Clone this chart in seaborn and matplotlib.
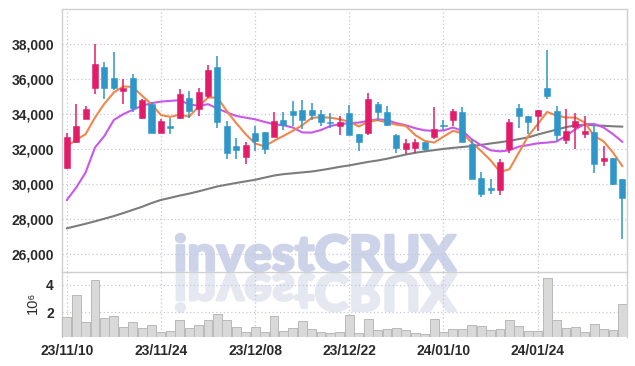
import numpy as np
import pandas as pd
import matplotlib
matplotlib.use("Agg")
import matplotlib.pyplot as plt
import seaborn as sns
from matplotlib.textpath import TextPath
from matplotlib.patches import PathPatch
from matplotlib.font_manager import FontProperties
from matplotlib.transforms import Affine2D, IdentityTransform
from matplotlib.ticker import FuncFormatter, FixedLocator

# ---------------- data ----------------
dates = ["23/11/10", "23/11/13", "23/11/14", "23/11/15", "23/11/16", "23/11/17",
         "23/11/20", "23/11/21", "23/11/22", "23/11/23", "23/11/24", "23/11/27",
         "23/11/28", "23/11/29", "23/11/30", "23/12/01", "23/12/04", "23/12/05",
         "23/12/06", "23/12/07", "23/12/08", "23/12/11", "23/12/12", "23/12/13",
         "23/12/14", "23/12/15", "23/12/18", "23/12/19", "23/12/20", "23/12/21",
         "23/12/22", "23/12/26", "23/12/27", "23/12/28", "24/01/02", "24/01/03",
         "24/01/04", "24/01/05", "24/01/08", "24/01/09", "24/01/10", "24/01/11",
         "24/01/12", "24/01/15", "24/01/16", "24/01/17", "24/01/18", "24/01/19",
         "24/01/22", "24/01/23", "24/01/24", "24/01/25", "24/01/26", "24/01/29",
         "24/01/30", "24/01/31", "24/02/01", "24/02/02", "24/02/05", "24/02/06"]

open_ = [30950, 32420, 33750, 35520, 36700, 36060, 35300, 36040, 33810, 34570,
         32950, 33330, 33810, 34900, 34320, 35010, 36700, 33300, 32190, 31580,
         32910, 32990, 32720, 33680, 34190, 34250, 34250, 34000, 33540, 33300,
         34060, 32860, 32950, 34590, 34130, 32820, 32000, 32100, 32420, 32720,
         33370, 33680, 34130, 32320, 30360, 29810, 29680, 32000, 34380, 33900,
         33900, 35470, 34190, 32530, 33250, 32860, 32990, 31350, 31490, 30290]
high = [32950, 34570, 34480, 38000, 36990, 37520, 36000, 36290, 34860, 34670,
        33710, 33810, 35430, 35330, 35470, 36820, 37330, 33620, 32670, 32420,
        33330, 32990, 34130, 34100, 34760, 34800, 34630, 34250, 34040, 33900,
        34510, 32860, 35200, 34670, 34440, 32860, 32570, 32610, 32420, 34420,
        33680, 34290, 34420, 32570, 30710, 30320, 31430, 33710, 34590, 33900,
        34250, 37670, 34480, 34290, 34060, 33900, 33400, 32190, 31490, 30290]
low = [30860, 32380, 33700, 35140, 34860, 35370, 34570, 34100, 33710, 32910,
       32910, 32860, 33710, 33810, 33870, 34950, 33240, 31430, 31430, 31140,
       31900, 31710, 32700, 33090, 33330, 33140, 33680, 33330, 33240, 32800,
       32840, 31900, 32820, 33620, 33330, 31810, 31710, 31770, 31900, 32610,
       33100, 33330, 32420, 30320, 29300, 29430, 29370, 31770, 33200, 32860,
       33050, 34860, 32480, 32290, 32000, 32670, 30670, 31050, 29940, 26860]
close = [32700, 33330, 34290, 36860, 35520, 35520, 35470, 34380, 34820, 32950,
         33620, 33220, 35140, 34190, 35280, 36530, 33560, 31810, 31960, 32250,
         32480, 32000, 33620, 33390, 33960, 33680, 33940, 33560, 33480, 33560,
         32840, 32420, 34860, 34150, 33370, 32100, 32340, 32420, 32000, 33140,
         33340, 34190, 32420, 30320, 29470, 29680, 31280, 33560, 33900, 33560,
         34250, 35050, 32820, 33050, 33620, 33050, 31140, 31500, 30040, 29240]

volume = [1.68, 3.28, 1.32, 4.36, 1.61, 1.75, 0.96, 1.32, 0.88, 1.10,
          0.59, 0.67, 1.46, 0.88, 1.10, 1.46, 1.90, 1.46, 0.93, 0.57,
          0.93, 0.57, 1.73, 0.64, 0.86, 1.37, 0.79, 0.57, 0.50, 0.57,
          1.80, 0.50, 1.51, 0.71, 0.79, 0.86, 0.71, 0.50, 0.43, 1.51,
          0.57, 0.79, 0.79, 1.08, 1.01, 0.71, 0.79, 1.44, 1.01, 0.64,
          0.64, 4.49, 1.44, 0.86, 0.93, 0.57, 1.15, 0.79, 0.71, 2.60]

ma_short = [32180, 32530, 32860, 33810, 34600, 35240, 35580, 35560, 35050, 34570,
            33950, 33850, 33980, 33860, 34440, 34950, 34950, 34180, 33490, 32860,
            32330, 32170, 32480, 32760, 33050, 33370, 33790, 33830, 33800, 33710,
            33570, 33300, 33560, 33660, 33530, 33400, 33330, 32810, 32480, 32380,
            32720, 33050, 32910, 32380, 31900, 31370, 30710, 30860, 31810, 32760,
            33430, 34130, 33920, 33810, 33810, 33520, 32760, 32450, 31810, 31030]
ma_mid = [29100, 29810, 30670, 32100, 32760, 33670, 34000, 34250, 34480, 34630,
          34720, 34760, 34800, 34560, 34480, 34570, 34330, 34100, 33900, 33800,
          33710, 33560, 33430, 33370, 33240, 32960, 32950, 33100, 33330, 33430,
          33490, 33520, 33620, 33710, 33660, 33490, 33370, 33200, 33080, 33050,
          33070, 33240, 33050, 32570, 32230, 31940, 31880, 31940, 32150, 32240,
          32340, 32380, 32440, 32760, 33140, 33430, 33440, 33240, 32860, 32420]
ma_long = [27490, 27620, 27750, 27890, 28040, 28190, 28360, 28540, 28720, 28930,
           29110, 29230, 29360, 29470, 29600, 29740, 29880, 29980, 30080, 30170,
           30260, 30380, 30500, 30580, 30630, 30680, 30730, 30810, 30900, 31000,
           31080, 31180, 31280, 31360, 31460, 31580, 31700, 31800, 31880, 31950,
           32020, 32080, 32130, 32180, 32250, 32330, 32400, 32480, 32580, 32680,
           32840, 32980, 33120, 33260, 33370, 33400, 33370, 33340, 33310, 33290]

price_ticks = [26000, 28000, 30000, 32000, 34000, 36000, 38000]
volume_ticks = [2, 4]
label_step = 10
watermark = "investCRUX"

# ---------------- styling ----------------
sns.set_style("white")
FONT = ["Liberation Sans Narrow", "Liberation Sans", "DejaVu Sans"]
plt.rcParams["font.family"] = FONT

UP = "#e31c6a"
DOWN = "#2e96c8"
GRID = "#c3c8dc"
SPINE = "#d0d0d0"
TXT = "#2a2a2a"

W, H = 635, 366
fig = plt.figure(figsize=(W / 100, H / 100), dpi=100)
fig.patch.set_facecolor("white")

ax = fig.add_axes([62.3 / W, 1 - 272 / H, 564.4 / W, (272 - 9) / H])
axv = fig.add_axes([62.3 / W, 1 - 337 / H, 564.4 / W, (337 - 272) / H], sharex=ax)

idx = np.arange(len(dates))
df = pd.DataFrame({"i": idx, "open": open_, "high": high, "low": low,
                   "close": close, "vol": volume, "ma_s": ma_short,
                   "ma_m": ma_mid, "ma_l": ma_long})

# moving-average lines (seaborn)
sns.lineplot(data=df, x="i", y="ma_l", ax=ax, color="#7c7c7c", linewidth=1.5, zorder=3)
sns.lineplot(data=df, x="i", y="ma_m", ax=ax, color="#c957ea", linewidth=1.5, zorder=3)
sns.lineplot(data=df, x="i", y="ma_s", ax=ax, color="#f0874a", linewidth=1.5, zorder=3)

# candles
up = df["close"] >= df["open"]
cols = np.where(up, UP, DOWN)
body_lo = np.minimum(df["open"], df["close"])
body_h = np.maximum(np.abs(df["close"] - df["open"]), 40)
ax.vlines(idx, df["low"], df["high"], colors=cols, linewidth=1.1, zorder=4)
ax.bar(idx, body_h, bottom=body_lo, width=0.64, color=cols,
       edgecolor=cols, linewidth=0.4, zorder=5)

# volume bars
axv.bar(idx, df["vol"], width=0.94, color="#d9d9d9", edgecolor="#b9b9b9",
        linewidth=0.7, zorder=3)

# axes limits / ticks
ax.set_xlim(-0.47, 59.45)
ax.set_ylim(25000, 40000)
axv.set_ylim(0.2, 4.94)

tick_pos = idx[::label_step]
for a in (ax, axv):
    a.set_facecolor("none")
    a.xaxis.set_major_locator(FixedLocator(tick_pos))
    a.grid(True, which="major", color=GRID, linestyle=(0, (1, 2)), linewidth=0.9)
    a.set_axisbelow(True)
    a.set_xlabel("")
    a.set_ylabel("")
    a.tick_params(length=0, colors=TXT, labelsize=10)
    for s in a.spines.values():
        s.set_color(SPINE)
        s.set_linewidth(1.0)

ax.yaxis.set_major_locator(FixedLocator(price_ticks))
ax.yaxis.set_major_formatter(FuncFormatter(lambda v, p: f"{int(v):,}"))
ax.tick_params(axis="x", labelbottom=False)
ax.tick_params(axis="y", pad=6)
for t in ax.get_yticklabels():
    t.set_fontweight("bold")

axv.yaxis.set_major_locator(FixedLocator(volume_ticks))
axv.set_xticks(tick_pos)
axv.set_xticklabels([dates[i] for i in tick_pos], fontweight="bold")
axv.tick_params(axis="x", pad=5)
axv.tick_params(axis="y", pad=6)
for t in axv.get_yticklabels():
    t.set_fontweight("bold")
axv.spines["top"].set_visible(False)
axv.spines["bottom"].set_visible(False)
axv.text(-0.052, 0.52, "10\u2076", transform=axv.transAxes, rotation=90,
         ha="center", va="center", fontsize=10.5, color=TXT, family=FONT)

# watermark with reflection
fp = FontProperties(family=["Lato", "Open Sans", "DejaVu Sans"], weight="black")
tp = TextPath((0, 0), watermark, size=100, prop=fp)
bb = tp.get_extents()
x0, x1 = 176, 456
ytop, ybot = 234, 271
sx = (x1 - x0) / bb.width
sy = (ybot - ytop) / bb.height
tr = Affine2D().translate(-bb.x0, -bb.y0).scale(sx, sy).translate(x0, H - ybot)
fig.add_artist(PathPatch(tr.transform_path(tp), transform=IdentityTransform(),
                         facecolor="#cdd3e8", edgecolor="#cdd3e8",
                         linewidth=1.8, joinstyle="round", zorder=-5))
tr2 = Affine2D().translate(-bb.x0, -bb.y0).scale(sx, -sy * 1.02).translate(x0, H - ybot - 3)
fig.add_artist(PathPatch(tr2.transform_path(tp), transform=IdentityTransform(),
                         facecolor="#e5e7f1", edgecolor="#e5e7f1",
                         linewidth=1.8, joinstyle="round", zorder=-6))

fig.savefig("out.png", dpi=100, facecolor="white")
